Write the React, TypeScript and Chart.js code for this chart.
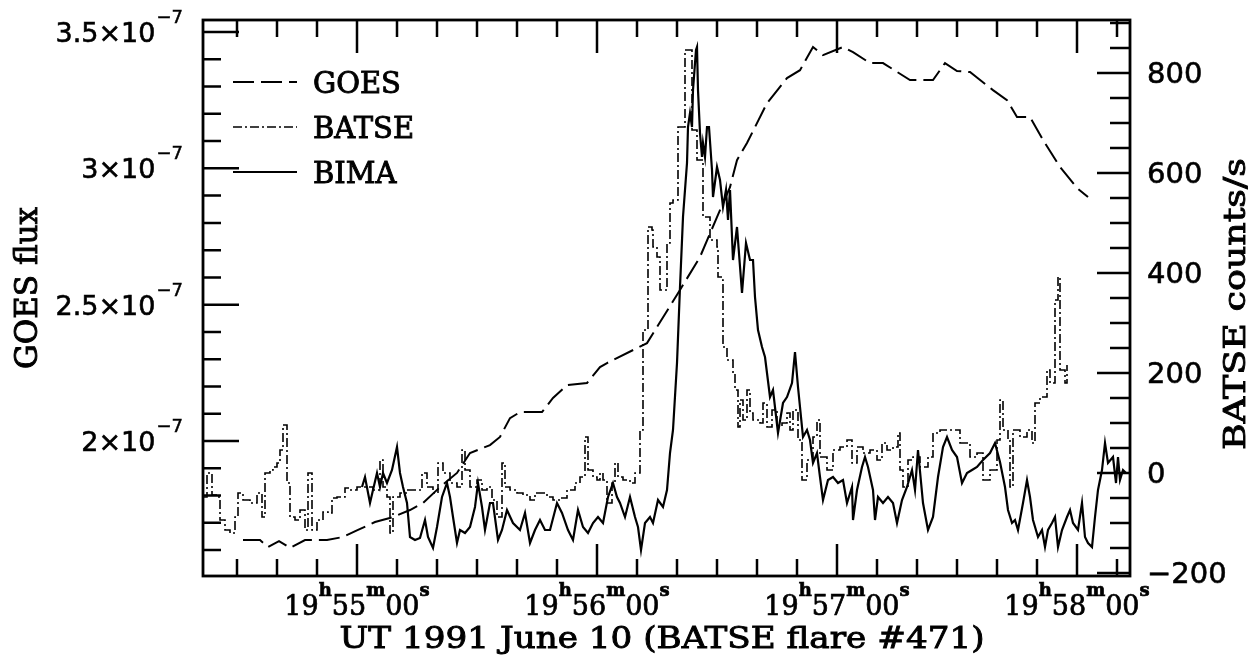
import React, { useEffect, useRef } from "react";
import { Chart, registerables } from "chart.js";

Chart.register(...registerables);

const W = 1259;
const H = 663;

// Time axis: seconds after 19h54m00s UT
const timeRange = [21.5, 253.25];
const goesRangeE7 = [1.505, 3.544];
const batseRange = [-206, 906];

const xMajorTimes = [60, 120, 180, 240];
const xTickHours = ["19", "19", "19", "19"];
const xTickMinutes = ["55", "56", "57", "58"];
const leftTickValuesE7 = [2, 2.5, 3, 3.5];
const leftTickMantissas = ["2", "2.5", "3", "3.5"];
const rightTickValues = [-200, 0, 200, 400, 600, 800];
const rightTickLabels = ["\u2212200", "0", "200", "400", "600", "800"];

// GOES flux [t (s), flux in units of 1e-7]
const goesPoints: [number, number][] = [
  [31.5, 1.637], [35.75, 1.637], [37.75, 1.611], [40.5, 1.633], [43.25, 1.608],
  [47, 1.637], [52.5, 1.637], [56.5, 1.648], [60.25, 1.674], [64.5, 1.703],
  [69, 1.721], [73.25, 1.747], [76.5, 1.773], [80.75, 1.831], [85, 1.883],
  [88.25, 1.956], [93.25, 1.985], [95.75, 2.015], [98.25, 2.084], [100.75, 2.106],
  [106.25, 2.106], [109, 2.158], [112.5, 2.205], [117.5, 2.213], [120.75, 2.271],
  [122.5, 2.286], [132.5, 2.359], [140.75, 2.554], [145.75, 2.675], [150, 2.821],
  [153.25, 2.931], [155, 3.03], [157.5, 3.093], [162.5, 3.239], [167.5, 3.331],
  [170.75, 3.36], [174, 3.445], [176.5, 3.415], [181.5, 3.445], [184, 3.426],
  [188.25, 3.386], [191.5, 3.386], [198.25, 3.324], [204, 3.324], [207, 3.386],
  [210, 3.357], [213.25, 3.353], [219, 3.287], [222.5, 3.25], [225, 3.188],
  [228.25, 3.188], [231.5, 3.104], [235.75, 3.005], [240, 2.928], [242.75, 2.895],
];

// BATSE counts/s [t (s), counts/s]
const batsePoints: [number, number][] = [
  [21.5, -48], [22.5, 0], [23.75, -44], [25, -48], [25.75, -94], [27, -114], [28.25, -120],
  [29.5, -88], [30.25, -40], [31.5, -54], [33.25, -60], [35, -40], [36.25, -88], [37, 0],
  [38.25, 6], [39, 12], [40, 20], [40.75, 46], [41.5, 96], [42.5, -20], [43.25, -88],
  [44.5, -94], [45.75, -74], [47, -114], [47.75, 0], [48.75, -114], [50, -94], [51.5, -78],
  [52.75, -80], [53.75, -50], [55, -48], [57, -30], [58.25, -34], [60, -28], [61.5, -28],
  [64, -34], [65.75, 26], [66.5, -28], [67.5, -48], [68.25, -120], [69, -48], [70.75, -40],
  [72.5, -34], [74, -34], [76.25, 0], [77.5, -28], [79, -40], [80.25, 20], [81.5, 0],
  [83.25, -20], [85, -28], [86.25, 46], [87, 6], [88.25, -28], [90, -14], [91.25, -34],
  [92.5, -28], [93.75, -54], [95, -88], [96.25, 20], [97, -28], [98.25, -34], [100, -40],
  [101.5, -44], [103.25, -54], [104.5, -40], [105.75, -40], [107.5, -48], [109, -54],
  [110.75, -50], [112.5, -34], [114.5, -20], [115.75, -8], [117, 72], [117.75, 6],
  [119, -8], [120, -14], [120.75, 0], [121.5, -14], [122.5, -60], [123.75, -20],
  [124.5, 20], [125.25, -8], [126.5, -14], [128.25, -20], [129.5, 0], [130.75, 86],
  [131.5, 286], [132.75, 492], [133.75, 486], [134, 452], [135, 432], [135.75, 366],
  [137.5, 460], [138.25, 540], [139, 546], [140.25, 692], [141.5, 692], [142, 846],
  [143.25, 846], [143.75, 686], [145, 626], [146.5, 512], [147.5, 512], [148.25, 466],
  [150, 452], [150.25, 392], [151.25, 386], [151.5, 252], [152.5, 226], [154, 200],
  [154.5, 166], [155.25, 92], [155.75, 146], [156.5, 106], [157.5, 166], [158.25, 120],
  [159, 106], [160.75, 100], [161.5, 140], [162.5, 92], [163.75, 126], [165, 92],
  [166.25, 100], [167.5, 120], [168.25, 86], [169, 126], [170.25, 66], [171.25, -14],
  [172.5, 26], [174, 72], [175, 106], [175.75, 32], [177.5, 6], [179, 46], [180.75, 52],
  [182.5, 66], [183.75, 20], [185, 52], [186.5, 40], [188.25, 46], [190, 26], [191.25, 60],
  [192.5, 46], [194, 52], [195.25, 80], [195.75, 6], [196.5, -28], [197.75, 26], [199, 32],
  [200.75, 12], [202.75, 32], [204, 80], [205.75, 86], [207.5, 86], [209, 86], [210.75, 60],
  [213.25, 32], [215, 40], [216.5, -14], [218.25, 6], [220, 66], [220.75, 146], [221.5, 86],
  [222.75, 66], [223.25, -28], [224, 86], [225.75, 72], [227.5, 86], [228.75, 60],
  [229.5, 140], [230.75, 152], [232.5, 206], [233.25, 180], [234.5, 346], [235.25, 392],
  [235.75, 206], [237, 180], [237.5, 216],
];

// BIMA (arbitrary units, plotted on the counts/s axis) [t (s), value]
const bimaPoints: [number, number][] = [
  [61.25, -28], [62, -8], [63.25, -60], [64, -34], [65, 0], [65.75, -28], [66.5, 0],
  [67.5, -20], [68.75, 6], [70, 52], [70.75, 0], [71.5, -28], [72.5, -60], [73.25, -128],
  [74.5, -134], [75.75, -130], [77, -94], [77.75, -128], [79, -150], [80, -108],
  [81.25, -48], [82.5, -20], [83.25, -48], [84, -88], [85, -140], [85.75, -114], [87, -120],
  [88.25, -108], [89.5, -68], [90.25, -20], [91.25, -68], [92, -114], [93.25, -60],
  [94, -60], [95.25, -134], [96.25, -114], [97.5, -74], [99, -100], [100.75, -114],
  [102, -80], [103.25, -140], [104.5, -114], [105.75, -94], [107, -114], [108.25, -114],
  [110, -60], [111.25, -80], [112.75, -114], [114, -134], [115.25, -74], [116.5, -108],
  [117.75, -120], [119, -100], [120.25, -88], [121.5, -100], [122.75, -48], [124, -20],
  [125, -48], [125.75, -60], [127, -88], [128.25, -48], [129.5, -88], [130.25, -108],
  [131, -154], [132, -100], [133.25, -88], [134, -100], [135.25, -54], [136.5, -68],
  [137.5, -34], [138.25, 40], [139, 86], [140, 220], [140.75, 372], [141.5, 512],
  [142.5, 620], [142.75, 692], [143.25, 720], [143.75, 692], [144, 766], [144.75, 846],
  [145, 852], [145.25, 766], [145.75, 680], [146.25, 632], [146.5, 660], [147, 632],
  [147.5, 692], [148, 692], [148.75, 606], [149, 552], [150, 612], [150.75, 586],
  [151.5, 532], [152.25, 566], [152.75, 506], [153.25, 566], [154, 426], [155, 492],
  [156.25, 360], [157.25, 460], [158.25, 426], [159, 426], [159.5, 352], [160.25, 286],
  [161.25, 252], [162, 232], [163.25, 152], [164, 166], [165.25, 80], [166.5, 140],
  [167.5, 152], [168.75, 180], [169.5, 242], [170.25, 172], [171.5, 72], [172.5, 86],
  [173.25, 66], [174, 20], [175, 40], [175.75, -8], [176.5, -54], [177.75, -14], [179, -8],
  [180.25, -20], [181.5, -14], [182.5, -60], [183.75, -28], [184, -94], [185, -34],
  [186.25, 12], [187, 32], [187.75, 12], [189, -34], [189.5, -94], [190.25, -48],
  [191.5, -60], [192.75, -48], [194, -60], [195, -100], [196.25, -54], [197.5, -28],
  [198.75, 6], [199.5, -34], [200.25, 46], [201.5, -60], [202.75, -114], [204, -88],
  [205.25, -8], [206.5, 52], [207.5, 72], [208.75, 46], [210, 32], [211.25, -20],
  [212.5, 0], [213.75, 6], [215, 12], [216.5, 26], [218.25, 40], [219.5, 60], [220.75, 22],
  [222, -28], [222.75, -74], [223.75, -100], [224.5, -94], [225.25, -114], [226.5, -60],
  [227.5, -14], [228.25, -48], [229, -94], [230.25, -128], [231.25, -114], [232, -148],
  [232.75, -114], [233.75, -100], [234.5, -88], [235.25, -148], [236.25, -114],
  [237.5, -88], [238.25, -74], [239, -100], [240.25, -114], [241.25, -60], [242, -128],
  [242.75, -140], [243.75, -148], [244.5, -88], [245.25, -34], [246.25, 6], [247, 60],
  [247.75, 20], [249, 32], [249.75, -20], [250.25, 32], [250.75, -14], [251.5, 6],
  [252.25, 0],
];

const GOES_DASH = [21, 7];
const BATSE_DASH = [9, 3, 2, 3];
const SERIF = '"DejaVu Serif", serif';
const SANS = '"DejaVu Sans", sans-serif';

const AREA = { left: 203, right: 1130, top: 20, bottom: 576 };

// fill text and thicken it slightly, to mimic the heavy printed strokes
function heavyText(ctx: CanvasRenderingContext2D, text: string, x: number, y: number, weight = 0.7) {
  ctx.fillText(text, x, y);
  ctx.lineWidth = weight;
  ctx.strokeText(text, x, y);
}

function drawFitted(
  ctx: CanvasRenderingContext2D,
  text: string,
  font: string,
  x: number,
  y: number,
  targetLen: number,
  rotated: boolean
) {
  ctx.save();
  ctx.font = font;
  const w = ctx.measureText(text).width;
  const s = targetLen / w;
  ctx.translate(x, y);
  if (rotated) ctx.rotate(-Math.PI / 2);
  ctx.scale(s, 1);
  ctx.textAlign = "center";
  ctx.textBaseline = "alphabetic";
  heavyText(ctx, text, 0, 0, 0.9);
  ctx.restore();
}

const decorPlugin = {
  id: "decor",
  afterDraw(chart: any) {
    const ctx: CanvasRenderingContext2D = chart.ctx;
    const a = chart.chartArea;
    const sx = chart.scales.x;
    const sl = chart.scales.yL;
    const sr = chart.scales.yR;
    ctx.save();
    ctx.strokeStyle = "#000";
    ctx.fillStyle = "#000";
    ctx.setLineDash([]);
    ctx.lineCap = "butt";

    // frame
    ctx.lineWidth = 2.8;
    ctx.strokeRect(a.left, a.top, a.right - a.left, a.bottom - a.top);

    // inward ticks
    ctx.lineWidth = 2.5;
    ctx.beginPath();
    for (let s = 30; s <= 250; s += 10) {
      const px = sx.getPixelForValue(s);
      const major = s % 60 === 0;
      ctx.moveTo(px, a.bottom);
      ctx.lineTo(px, a.bottom - (major ? 32 : 17));
      ctx.moveTo(px, a.top);
      ctx.lineTo(px, a.top + (major ? 33 : 17));
    }
    for (let k = 16; k <= 35; k++) {
      const py = sl.getPixelForValue(k * 1e-8);
      const major = k % 5 === 0;
      ctx.moveTo(a.left, py);
      ctx.lineTo(a.left + (major ? 36 : 18), py);
    }
    for (let v = -200; v <= 900; v += 50) {
      const py = sr.getPixelForValue(v);
      const major = v % 200 === 0;
      ctx.moveTo(a.right, py);
      ctx.lineTo(a.right - (major ? 33 : 20), py);
    }
    ctx.stroke();

    ctx.textAlign = "left";
    ctx.textBaseline = "alphabetic";

    // left tick labels (GOES flux)
    const mainL = `27px ${SANS}`;
    const supL = `18px ${SANS}`;
    leftTickValuesE7.forEach((v, i) => {
      const py = sl.getPixelForValue(v * 1e-7);
      const main = leftTickMantissas[i] + "\u00d710";
      const sup = "\u22127";
      ctx.font = supL;
      const ws = ctx.measureText(sup).width;
      ctx.font = mainL;
      const wm = ctx.measureText(main).width;
      const right = 183;
      heavyText(ctx, main, right - ws - 1 - wm, py + 10, 0.6);
      ctx.font = supL;
      heavyText(ctx, sup, right - ws, py - 9, 0.5);
    });

    // right tick labels (BATSE counts/s)
    ctx.font = `29px ${SANS}`;
    rightTickValues.forEach((v, i) => {
      const py = sr.getPixelForValue(v);
      heavyText(ctx, rightTickLabels[i], 1147, py + 10, 0.6);
    });

    // bottom tick labels (UT)
    const mainX = `27px ${SERIF}`;
    const supX = `bold 18px ${SERIF}`;
    xMajorTimes.forEach((t, i) => {
      const px = sx.getPixelForValue(t);
      const segs: [string, string, number][] = [
        [xTickHours[i], mainX, 0],
        ["h", supX, -19],
        [xTickMinutes[i], mainX, 0],
        ["m", supX, -19],
        ["00", mainX, 0],
        ["s", supX, -19],
      ];
      let total = 0;
      segs.forEach(([txt, f]) => {
        ctx.font = f;
        total += ctx.measureText(txt).width;
      });
      let x = px - total / 2;
      const base = 615;
      segs.forEach(([txt, f, dy]) => {
        ctx.font = f;
        heavyText(ctx, txt, x, base + dy, 0.7);
        x += ctx.measureText(txt).width;
      });
    });

    // axis titles
    drawFitted(ctx, "UT 1991 June 10 (BATSE flare #471)", `30px ${SERIF}`, 662, 648, 645, false);
    drawFitted(ctx, "GOES flux", `31px ${SERIF}`, 37, 288, 162, true);
    drawFitted(ctx, "BATSE counts/s", `30px ${SERIF}`, 1245, 304, 292, true);

    // legend
    const ds = chart.data.datasets;
    const rowsY = [82, 127, 172];
    ds.forEach((d: any, i: number) => {
      const y = rowsY[i];
      ctx.save();
      ctx.lineWidth = d.borderWidth;
      ctx.setLineDash(d.borderDash || []);
      ctx.beginPath();
      ctx.moveTo(233, y);
      ctx.lineTo(297, y);
      ctx.stroke();
      ctx.restore();
      ctx.font = `29px ${SERIF}`;
      heavyText(ctx, d.label, 313, y + 10.5, 0.9);
    });

    ctx.restore();
  },
};

export default function App() {
  const ref = useRef<HTMLCanvasElement | null>(null);

  useEffect(() => {
    if (!ref.current) return;
    const chart = new Chart(ref.current, {
      type: "line",
      data: {
        datasets: [
          {
            label: "GOES",
            data: goesPoints.map(([t, v]) => ({ x: t, y: v * 1e-7 })),
            yAxisID: "yL",
            borderColor: "#000",
            borderWidth: 2,
            borderDash: GOES_DASH,
            pointRadius: 0,
            tension: 0,
          },
          {
            label: "BATSE",
            data: batsePoints.map(([t, v]) => ({ x: t, y: v })),
            yAxisID: "yR",
            borderColor: "#000",
            borderWidth: 1.6,
            borderDash: BATSE_DASH,
            stepped: "before",
            pointRadius: 0,
          },
          {
            label: "BIMA",
            data: bimaPoints.map(([t, v]) => ({ x: t, y: v })),
            yAxisID: "yR",
            borderColor: "#000",
            borderWidth: 2.2,
            pointRadius: 0,
            tension: 0,
          },
        ],
      },
      options: {
        responsive: false,
        animation: false,
        events: [],
        layout: {
          padding: {
            left: AREA.left,
            right: W - AREA.right,
            top: AREA.top,
            bottom: H - AREA.bottom,
          },
        },
        plugins: {
          legend: { display: false },
          tooltip: { enabled: false },
          title: { display: false },
        },
        scales: {
          x: { type: "linear", display: false, min: timeRange[0], max: timeRange[1] },
          yL: {
            type: "linear",
            display: false,
            position: "left",
            min: goesRangeE7[0] * 1e-7,
            max: goesRangeE7[1] * 1e-7,
          },
          yR: {
            type: "linear",
            display: false,
            position: "right",
            min: batseRange[0],
            max: batseRange[1],
          },
        },
      } as any,
      plugins: [decorPlugin],
    });
    return () => chart.destroy();
  }, []);

  return (
    <div style={{ position: "fixed", left: 0, top: 0, width: W, height: H, background: "#fff" }}>
      <canvas ref={ref} width={W} height={H} style={{ display: "block" }} />
    </div>
  );
}
